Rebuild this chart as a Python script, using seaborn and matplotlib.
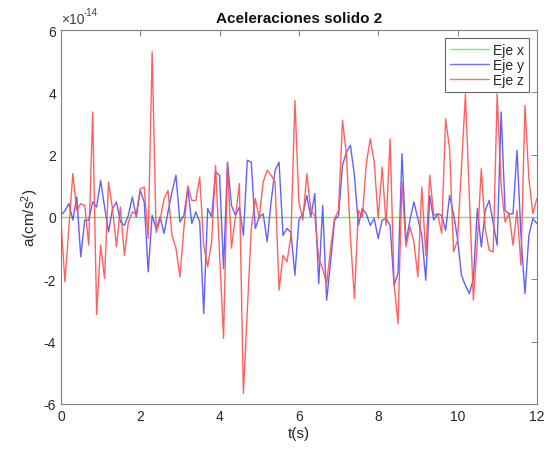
import numpy as np
import pandas as pd
import matplotlib
matplotlib.use("Agg")
import matplotlib.pyplot as plt
import seaborn as sns
from matplotlib.ticker import FuncFormatter

# Time axis and accelerations (units of 1e-14 cm/s^2)
t = [round(0.1 * i, 1) for i in range(121)]

eje_x = [0.0] * 121

eje_y = [
    0.05, 0.2, 0.43, -0.1, 0.64, -1.28, -0.1, -0.1, 0.48, 0.32,
    1.17, 0.32, -0.48, 0.27, 0.48, -0.16, -0.27, 0.05, 0.64, 0.0,
    0.85, 0.48, -1.76, 0.05, -0.37, 0.0, -0.53, 0.16, 0.8, 1.34,
    -0.16, 0.05, 0.91, -0.21, 0.16, -0.16, -3.1, 0.27, 0.0, 1.44,
    1.34, -1.66, 1.76, 0.37, 0.05, 0.32, -0.59, 1.82, 1.76, -0.37,
    0.0, 0.1, -0.8, 0.5, 1.5, 1.76, -0.59, -0.37, -0.5, -1.87,
    -0.1, 0.1, 0.69, 0.0, 0.75, -2.14, 0.37, -2.67, -1.44, -0.1,
    0.05, 1.66, 2.08, 2.3, 1.34, -0.27, 0.27, 0.1, -0.27, -0.05,
    -0.69, -0.1, -0.05, -0.27, -2.19, -1.82, 2.03, -0.8, -0.1, 0.48,
    -0.05, -0.59, -2.03, 0.69, -0.1, 0.1, 0.05, -0.43, 0.69, 0.1,
    -0.69, -1.87, -2.2, -2.46, -1.98, 0.27, -0.96, 0.21, 0.53, -0.2,
    -0.91, 3.37, 0.21, 0.1, 0.1, 2.14, -0.59, -2.46, -0.59, -0.05,
    -0.21,
]

eje_z = [
    -0.1, -2.08, -0.35, 1.39, 0.2, 0.43, 0.37, -0.9, 3.37, -3.13,
    -0.9, -1.98, 1.12, 0.27, -0.96, 0.32, -1.23, -0.16, 0.16, 0.1,
    0.9, 0.96, -0.69, 5.3, -0.5, -0.1, 0.59, 0.85, -0.59, -1.0,
    -1.92, -0.37, 1.0, 0.53, 0.53, 1.28, -0.9, -1.6, -0.8, 1.65,
    -1.2, -3.9, 1.7, -1.0, 0.0, 1.07, -5.66, -3.0, -0.37, 0.59,
    -0.05, 1.12, 1.5, 1.34, 1.12, -2.35, -1.23, -1.44, -0.6, 3.74,
    0.48, -0.1, 1.39, 0.21, 0.05, -1.34, -1.66, -2.14, -1.01, -0.05,
    0.21, 3.1, 1.98, -0.64, -2.62, 0.21, 0.0, 1.71, 2.51, 1.76,
    -0.05, 1.6, -0.27, 2.51, -2.14, -3.42, 1.12, -0.96, -0.32, -0.8,
    -1.92, 0.96, -1.23, 1.34, 0.05, 0.1, -0.53, 3.15, 2.19, -1.12,
    -0.75, 1.6, 3.95, 0.6, -2.67, -0.8, 1.55, -0.4, -1.07, -1.12,
    3.95, 1.0, -0.16, 0.1, -0.91, 0.21, -1.55, 3.58, 1.23, 0.1,
    0.59,
]

series_names = ["Eje x", "Eje y", "Eje z"]
series_colors = ["#4cee4c", "#5050ff", "#ff5050"]
scale = 1e-14

frames = []
for name, vals in zip(series_names, [eje_x, eje_y, eje_z]):
    frames.append(pd.DataFrame({"t": t, "a": np.array(vals) * scale, "eje": name}))
df = pd.concat(frames, ignore_index=True)

sns.set_style("white")
plt.rcParams["font.family"] = ["Liberation Sans", "DejaVu Sans"]
plt.rcParams["mathtext.fontset"] = "custom"
plt.rcParams["mathtext.rm"] = "Liberation Sans"
plt.rcParams["mathtext.it"] = "Liberation Sans"
plt.rcParams["axes.unicode_minus"] = False

fig = plt.figure(figsize=(5.54, 4.56), dpi=100)
ax = fig.add_axes([0.110, 0.112, 0.859, 0.820])

sns.lineplot(data=df, x="t", y="a", hue="eje", hue_order=series_names,
             palette=series_colors, linewidth=1.0, ax=ax, legend=True,
             sort=False, estimator=None)
for line in ax.get_lines():
    line.set_alpha(0.9)

ax.set_xlim(0, 12)
ax.set_ylim(-6 * scale, 6 * scale)
ax.set_xticks(np.arange(0, 13, 2))
ax.set_yticks(np.arange(-6, 7, 2) * scale)

# Tick labels in units of 1e-14, exponent shown above the axis
ax.yaxis.set_major_formatter(FuncFormatter(lambda v, p: "%g" % round(v / scale, 6)))
ax.text(0.0, 1.012, "\u00d710", transform=ax.transAxes, fontsize=10,
        color="#404040", ha="left", va="bottom")
ax.text(0.048, 1.034, "-14", transform=ax.transAxes, fontsize=7,
        color="#404040", ha="left", va="bottom")

ax.tick_params(direction="in", length=4, width=0.6, colors="#707070",
               labelsize=10, top=True, right=True, labelcolor="#262626")
for s in ax.spines.values():
    s.set_color("#808080")
    s.set_linewidth(0.8)

ax.set_title("Aceleraciones solido 2", fontsize=11, fontweight="bold",
             color="#111111", pad=6)
ax.set_xlabel("t(s)", fontsize=11, color="#262626", labelpad=2)
ax.set_ylabel("a(cm/s$^2$)", fontsize=11, color="#262626", labelpad=2)

leg = ax.legend(loc="upper right", fontsize=10, frameon=True, fancybox=False,
                handlelength=2.8, handletextpad=0.3, borderpad=0.35,
                labelspacing=0.1, borderaxespad=0.55)
leg.get_frame().set_edgecolor("#404040")
leg.get_frame().set_linewidth(0.8)
for line in leg.get_lines():
    line.set_linewidth(1.0)
    line.set_alpha(0.8)

fig.savefig("out.png", dpi=100, facecolor="white")
